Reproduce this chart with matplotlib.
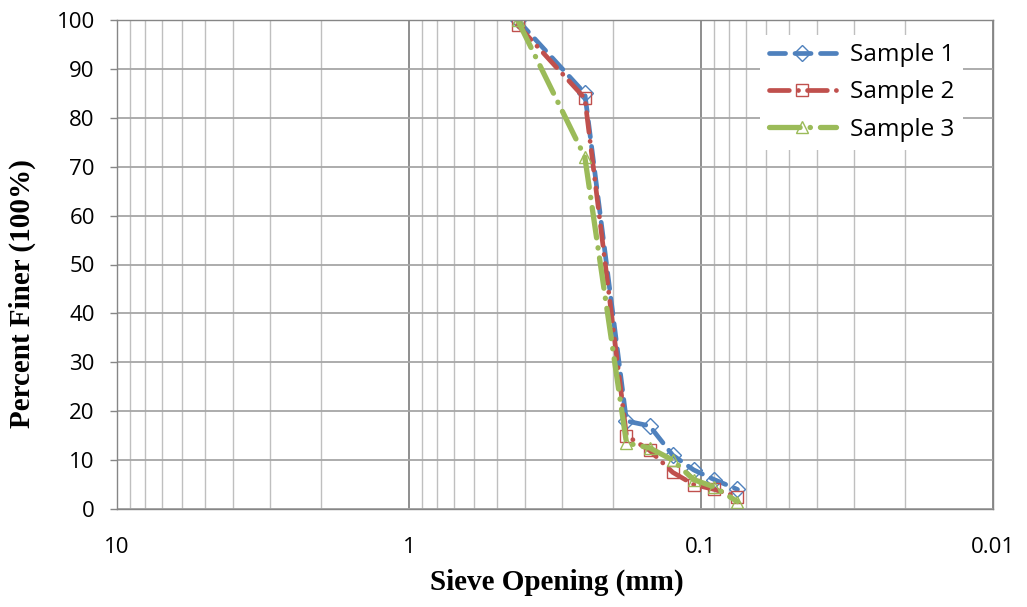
import numpy as np
import matplotlib
matplotlib.use('Agg')
import matplotlib.pyplot as plt
from matplotlib.ticker import FixedLocator, NullFormatter

# sieve sizes (mm) and percent passing for each sample
sieve_mm = [0.425, 0.25, 0.18, 0.15, 0.125, 0.106, 0.09, 0.075]
sample_1 = [100, 85, 18, 17, 11, 8, 6, 4]
sample_2 = [99, 84, 15, 12, 7.5, 5, 4, 2.5]
sample_3 = [100, 72, 13.5, 12.5, 10, 6, 4.5, 1.5]

labels = ['Sample 1', 'Sample 2', 'Sample 3']
x_ticks = [10, 1, 0.1, 0.01]
x_tick_labels = ['10', '1', '0.1', '0.01']
y_ticks = list(range(0, 101, 10))

W, H = 1027, 607
fig = plt.figure(figsize=(W / 100, H / 100), dpi=100)
ax = fig.add_axes([117 / W, 1 - 509 / H, 876 / W, 489 / H])

ax.set_xscale('log')
ax.set_xlim(10, 0.01)
ax.set_ylim(0, 100)

# grid: major and minor vertical lines, horizontal every 10
minor = [m * 10.0 ** e for e in (-2, -1, 0) for m in range(2, 10)]
ax.xaxis.set_major_locator(FixedLocator(x_ticks))
ax.xaxis.set_minor_locator(FixedLocator(minor))
ax.xaxis.set_minor_formatter(NullFormatter())
ax.set_xticklabels(x_tick_labels)
ax.set_yticks(y_ticks)
ax.grid(True, which='major', axis='x', color='#868686', linewidth=1.3)
ax.grid(True, which='minor', axis='x', color='#BFBFBF', linewidth=1.0)
ax.grid(True, which='major', axis='y', color='#A6A6A6', linewidth=1.3)
ax.set_axisbelow(True)

for s in ax.spines.values():
    s.set_color('#868686')
    s.set_linewidth(1.0)

ax.tick_params(axis='y', which='major', length=5, width=1, color='#868686',
               pad=11, labelsize=16)
ax.tick_params(axis='x', which='both', length=0, pad=20, labelsize=16)
for t in ax.get_yticklabels() + ax.get_xticklabels():
    t.set_fontfamily('Open Sans')

lw = 3.4
ax.plot(sieve_mm, sample_1, color='#4F81BD', linewidth=lw,
        dashes=(3.4, 2.0), dash_capstyle='round',
        marker='D', markersize=8, markerfacecolor='none',
        markeredgecolor='#4F81BD', markeredgewidth=1.0, label=labels[0])
ax.plot(sieve_mm, sample_2, color='#C0504D', linewidth=lw,
        dashes=(4.2, 1.9, 0.05, 1.9), dash_capstyle='round',
        marker='s', markersize=8, markerfacecolor='none',
        markeredgecolor='#C0504D', markeredgewidth=1.0, label=labels[1])
ax.plot(sieve_mm, sample_3, color='#9BBB59', linewidth=lw + 0.4,
        dashes=(5.8, 1.9, 0.05, 1.9), dash_capstyle='round',
        marker='^', markersize=9, markerfacecolor='none',
        markeredgecolor='#9BBB59', markeredgewidth=1.0, label=labels[2])

leg = ax.legend(loc='upper right', bbox_to_anchor=(0.98, 0.995),
                prop={'family': 'Open Sans', 'size': 17.5},
                frameon=True, fancybox=False, framealpha=1.0,
                edgecolor='none', facecolor='white', numpoints=1,
                handlelength=2.75, handletextpad=0.6, labelspacing=0.55,
                borderpad=0.35)

ax.set_xlabel('Sieve Opening (mm)', family='Liberation Serif',
              fontweight='bold', fontsize=21)
ax.set_ylabel('Percent Finer (100%)', family='Liberation Serif',
              fontweight='bold', fontsize=21)
ax.xaxis.set_label_coords(0.502, -0.122)
ax.yaxis.set_label_coords(-0.092, 0.44)

fig.savefig('out.png', dpi=100)
